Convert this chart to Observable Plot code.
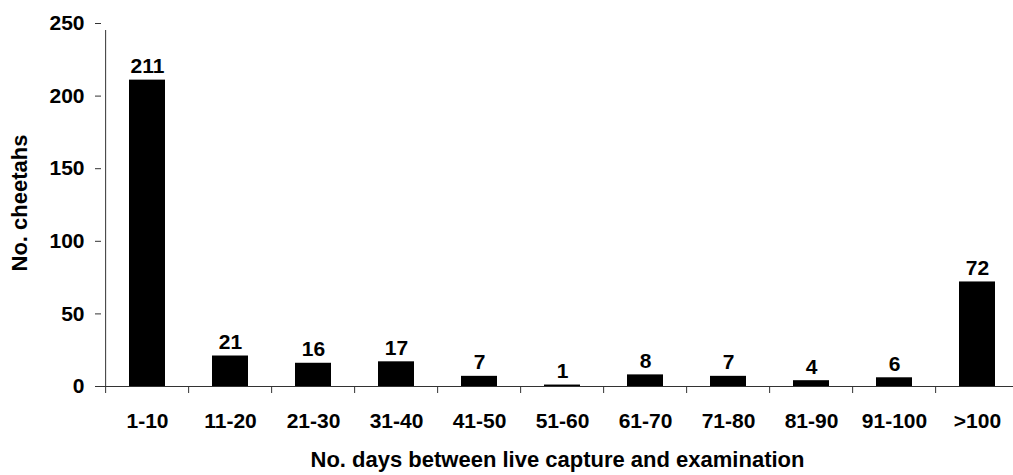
<!DOCTYPE html>
<html>
<head>
<meta charset="utf-8">
<script src="https://cdn.jsdelivr.net/npm/d3@7"></script>
<script src="https://cdn.jsdelivr.net/npm/@observablehq/plot@0.6"></script>
<style>
  html, body { margin: 0; padding: 0; background: #fff; }
  #chart svg { display: block; }
</style>
</head>
<body>
<div id="chart"></div>
<script>
const categories = ["1-10", "11-20", "21-30", "31-40", "41-50", "51-60", "61-70", "71-80", "81-90", "91-100", ">100"];
const counts = [211, 21, 16, 17, 7, 1, 8, 7, 4, 6, 72];
const yTicks = [0, 50, 100, 150, 200, 250];
const xTitle = "No. days between live capture and examination";
const yTitle = "No. cheetahs";

const data = categories.map((c, i) => ({category: c, count: counts[i]}));

const W = 1013, H = 475;
const x0 = 101, x1 = 1022;
const step = (x1 - x0) / categories.length;
const axisColor = "#333";
const font = "Liberation Sans, Arial, sans-serif";

const chart = Plot.plot({
  width: W,
  height: H,
  marginLeft: x0,
  marginRight: 0,
  marginTop: 23,
  marginBottom: 89,
  style: {fontFamily: font, fontWeight: "bold", fontSize: "21px", color: "#000", background: "#fff"},
  x: {domain: categories, range: [x0, x1], paddingInner: 0.57, paddingOuter: 0.285},
  y: {domain: [0, 250], ticks: yTicks},
  marks: [
    Plot.barY(data, {x: "category", y: "count", fill: "#000"}),
    Plot.text(data, {x: "category", y: "count", text: d => String(d.count), lineAnchor: "bottom", dy: -7, fontSize: 21, fontWeight: "bold", fill: "#000"}),
    // x axis line
    Plot.ruleY([0], {stroke: axisColor, strokeWidth: 1}),
    // category boundary ticks below the axis
    Plot.ruleX(categories, {x: d => d, y1: 0, y2: 0, dx: -step / 2, insetBottom: -7, stroke: axisColor}),
    // y axis line (extends below zero like a tick)
    Plot.ruleX([categories[0]], {x: d => d, y1: 0, y2: 250, dx: -step / 2, insetBottom: -7, stroke: axisColor}),
    Plot.axisY({ticks: yTicks, tickSize: 6, tickPadding: 11, stroke: axisColor, fontSize: 21, fontWeight: "bold", label: null}),
    Plot.axisX({tickSize: 0, tickPadding: 27, fontSize: 21, fontWeight: "bold", label: null}),
    Plot.text([xTitle], {frameAnchor: "bottom", textAnchor: "middle", dy: 80, text: d => d, fontSize: 22, fontWeight: "bold", lineAnchor: "bottom", fill: "#000"}),
    Plot.text([yTitle], {frameAnchor: "left", textAnchor: "middle", dx: -82, dy: -2, text: d => d, rotate: -90, fontSize: 22, fontWeight: "bold", fill: "#000"})
  ]
});
document.getElementById("chart").appendChild(chart);
</script>
</body>
</html>
